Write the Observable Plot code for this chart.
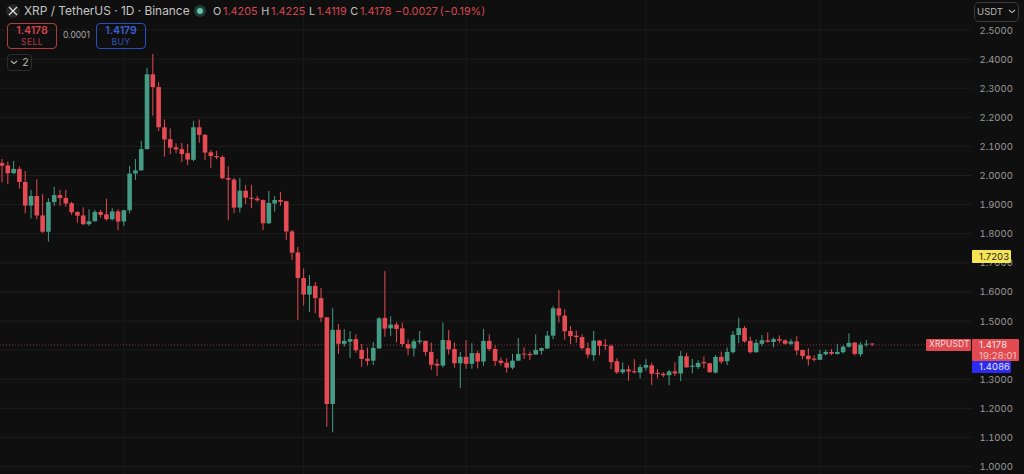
<!DOCTYPE html>
<html><head><meta charset="utf-8">
<script src="https://cdn.jsdelivr.net/npm/d3@7"></script>
<script src="https://cdn.jsdelivr.net/npm/@observablehq/plot@0.6"></script>
<style>
html,body{margin:0;padding:0;background:#0f0f0f;overflow:hidden}
#wrap{position:relative;width:1024px;height:474px;font-family:Inter,"Noto Sans",sans-serif;color:#c9c9c9}
#wrap>svg{display:block;position:absolute;left:0;top:0}
.a{position:absolute;white-space:nowrap}
.box{position:absolute;box-sizing:border-box;border:1px solid;border-radius:4px;text-align:center;line-height:1}
.tag{position:absolute;box-sizing:border-box;font-size:9.5px;line-height:11px;letter-spacing:.1px}
</style></head><body><div id="wrap"></div>
<script>
const opens=[2.041,2.033,2.006,2.021,1.976,1.895,1.928,1.861,1.805,1.907,1.931,1.921,1.903,1.873,1.861,1.831,1.841,1.873,1.865,1.848,1.875,1.840,1.879,2.005,2.016,2.089,2.346,2.302,2.164,2.123,2.095,2.089,2.075,2.052,2.164,2.138,2.078,2.065,2.062,1.990,1.984,1.888,1.946,1.922,1.919,1.914,1.834,1.902,1.914,1.910,1.806,1.734,1.646,1.589,1.619,1.577,1.511,1.213,1.468,1.420,1.427,1.436,1.399,1.369,1.362,1.404,1.509,1.473,1.486,1.473,1.419,1.404,1.427,1.430,1.392,1.351,1.345,1.432,1.402,1.353,1.375,1.351,1.388,1.359,1.430,1.402,1.362,1.355,1.338,1.362,1.386,1.385,1.383,1.396,1.404,1.448,1.542,1.517,1.464,1.448,1.443,1.405,1.381,1.431,1.416,1.413,1.360,1.322,1.332,1.326,1.321,1.338,1.346,1.320,1.317,1.312,1.325,1.318,1.377,1.341,1.340,1.357,1.353,1.321,1.375,1.360,1.391,1.450,1.474,1.430,1.391,1.420,1.432,1.426,1.436,1.432,1.420,1.428,1.399,1.379,1.369,1.365,1.384,1.392,1.385,1.391,1.410,1.424,1.384,1.417,1.4205];
const highs=[2.055,2.046,2.048,2.029,2.014,1.949,1.985,1.934,1.920,1.959,1.949,1.949,1.908,1.876,1.889,1.882,1.880,1.880,1.918,1.886,1.882,1.880,2.031,2.055,2.118,2.368,2.416,2.319,2.191,2.160,2.109,2.110,2.107,2.186,2.191,2.141,2.086,2.083,2.067,2.030,1.990,1.990,1.966,1.966,1.928,1.916,1.945,1.928,1.942,1.911,1.811,1.753,1.679,1.656,1.632,1.612,1.512,1.542,1.488,1.470,1.464,1.453,1.419,1.407,1.426,1.512,1.670,1.515,1.494,1.493,1.435,1.436,1.464,1.431,1.424,1.368,1.493,1.467,1.425,1.392,1.433,1.422,1.396,1.471,1.452,1.415,1.373,1.370,1.385,1.440,1.408,1.393,1.452,1.407,1.464,1.550,1.605,1.538,1.481,1.465,1.452,1.425,1.464,1.433,1.436,1.417,1.370,1.356,1.345,1.367,1.349,1.367,1.355,1.333,1.322,1.330,1.357,1.395,1.389,1.368,1.363,1.376,1.355,1.381,1.393,1.407,1.464,1.509,1.481,1.444,1.435,1.450,1.459,1.442,1.449,1.435,1.436,1.446,1.399,1.405,1.381,1.399,1.399,1.402,1.420,1.416,1.456,1.426,1.426,1.433,1.4225];
const lows=[1.975,1.968,2.004,1.953,1.868,1.851,1.848,1.800,1.771,1.894,1.894,1.891,1.863,1.836,1.828,1.825,1.840,1.853,1.843,1.843,1.811,1.825,1.868,1.983,2.015,2.088,2.204,2.151,2.063,2.071,2.075,2.044,2.034,2.047,2.111,2.052,2.025,2.054,1.985,1.845,1.868,1.871,1.900,1.886,1.908,1.811,1.832,1.874,1.894,1.777,1.708,1.502,1.551,1.529,1.525,1.494,1.135,1.116,1.385,1.410,1.371,1.389,1.341,1.345,1.347,1.403,1.444,1.447,1.425,1.410,1.380,1.376,1.419,1.379,1.330,1.310,1.339,1.383,1.338,1.268,1.334,1.334,1.336,1.344,1.395,1.344,1.345,1.321,1.332,1.361,1.368,1.364,1.383,1.383,1.402,1.435,1.493,1.434,1.419,1.424,1.399,1.370,1.361,1.381,1.399,1.333,1.316,1.316,1.293,1.318,1.301,1.328,1.278,1.301,1.305,1.278,1.309,1.292,1.337,1.318,1.333,1.336,1.321,1.318,1.351,1.347,1.387,1.422,1.424,1.387,1.389,1.412,1.424,1.408,1.422,1.417,1.415,1.381,1.367,1.345,1.359,1.364,1.380,1.381,1.383,1.387,1.407,1.380,1.376,1.410,1.4119];
const closes=[2.032,2.006,2.021,1.976,1.895,1.928,1.861,1.805,1.907,1.931,1.921,1.902,1.872,1.860,1.831,1.841,1.873,1.863,1.848,1.875,1.840,1.879,2.005,2.016,2.089,2.346,2.302,2.164,2.122,2.094,2.088,2.072,2.053,2.164,2.138,2.077,2.065,2.061,1.989,1.984,1.888,1.946,1.922,1.918,1.913,1.834,1.904,1.914,1.908,1.806,1.733,1.646,1.589,1.619,1.577,1.510,1.213,1.468,1.420,1.430,1.436,1.398,1.368,1.361,1.406,1.507,1.472,1.486,1.471,1.419,1.404,1.428,1.431,1.392,1.348,1.345,1.433,1.401,1.353,1.375,1.351,1.388,1.359,1.430,1.402,1.361,1.354,1.338,1.362,1.385,1.383,1.381,1.399,1.405,1.448,1.542,1.517,1.463,1.446,1.443,1.405,1.383,1.431,1.413,1.413,1.357,1.322,1.332,1.325,1.322,1.340,1.347,1.317,1.316,1.312,1.325,1.318,1.378,1.339,1.345,1.354,1.353,1.322,1.375,1.359,1.392,1.451,1.474,1.428,1.391,1.423,1.432,1.427,1.436,1.431,1.420,1.428,1.397,1.378,1.367,1.365,1.385,1.392,1.386,1.392,1.410,1.423,1.385,1.417,1.420,1.4178];
const priceTicks=[1.0,1.1,1.2,1.3,1.4,1.5,1.6,1.7,1.8,1.9,2.0,2.1,2.2,2.3,2.4,2.5];
const timeGrid=[21,52,80,111,141];
const lastPrice=1.4178, yellowLevel=1.7203, blueLevel=1.4086;
const GREEN="#459c85", RED="#e64a52";
const candles=opens.map((o,i)=>({i,o,h:highs[i],l:lows[i],c:closes[i],col:closes[i]>o?GREEN:RED}));
const W=1024,H=474;
const plot=Plot.plot({
  width:W,height:H,marginLeft:0,marginRight:52,marginTop:0,marginBottom:0,
  style:{background:"#0f0f0f",fontFamily:"Inter,'Noto Sans',sans-serif",fontSize:"10px",overflow:"visible"},
  x:{type:"linear",domain:[-0.26,167.3],axis:null},
  y:{type:"linear",domain:[0.9725,2.6014],axis:null},
  marks:[
    Plot.ruleY(priceTicks,{stroke:"#1d1d1d",strokeWidth:1}),
    Plot.ruleX(timeGrid,{stroke:"#1a1a1a",strokeWidth:1}),
    Plot.ruleY([lastPrice],{stroke:RED,strokeOpacity:.55,strokeWidth:1,strokeDasharray:"1 2"}),
    Plot.ruleX(candles,{x:"i",y1:"l",y2:"h",stroke:"col",strokeWidth:1}),
    Plot.ruleX(candles,{x:"i",y1:"o",y2:"c",stroke:"col",strokeWidth:4.6}),
    Plot.axisY(priceTicks,{anchor:"right",tickSize:0,tickPadding:7,dy:0.5,textAnchor:"start",tickFormat:d3.format(".4f"),fill:"#9a9a9a",label:null,fontSize:9.5})
  ]
});
const wrap=document.getElementById("wrap");
wrap.appendChild(plot);
const yS=plot.scale("y").apply;
function add(html,css,cls){const d=document.createElement("div");d.className=cls||"a";d.style.cssText=css;d.innerHTML=html;wrap.appendChild(d);return d}
const chev=(c)=>`<svg width="8" height="5" viewBox="0 0 8 5" style="vertical-align:1px"><path d="M1 1L4 3.6L7 1" fill="none" stroke="${c}" stroke-width="1.1"/></svg>`;
// header
add('','left:6px;top:4px;width:14px;height:14px;border-radius:50%;background:#262626');
add('<svg width="10" height="10" viewBox="0 0 10 10" style="display:block"><path d="M1 1L9 9M9 1L1 9" stroke="#e4e4e4" stroke-width="1.1"/></svg>','left:8px;top:6px;line-height:0');
add('XRP / TetherUS · 1D · Binance','left:24px;top:3px;font-size:11.9px;line-height:16px;color:#c4c4c4');
add('','left:197px;top:8px;width:6px;height:6px;border-radius:50%;background:#6cc4ac;box-shadow:0 0 0 3px #1f3d36');
add('<span style="color:#c4c4c4">O</span> 1.4205 &nbsp;<span style="color:#c4c4c4">H</span> 1.4225 &nbsp;<span style="color:#c4c4c4">L</span> 1.4119 &nbsp;<span style="color:#c4c4c4">C</span> 1.4178 &nbsp;−0.0027 (−0.19%)','left:213px;top:4px;font-size:10.8px;line-height:15px;color:#d9474e;word-spacing:-1.2px');
add('<div style="font-size:10.5px;font-weight:600;margin-top:2px">1.4178</div><div style="font-size:8.5px;margin-top:1px;letter-spacing:.4px;opacity:.85">SELL</div>','left:7px;top:23px;width:50px;height:26px;border-color:#b43a42;color:#d9434c','box');
add('0.0001','left:63px;top:30px;font-size:8.5px;line-height:11px;color:#a8a8a8');
add('<div style="font-size:10.5px;font-weight:600;margin-top:2px">1.4179</div><div style="font-size:8.5px;margin-top:1px;letter-spacing:.4px;opacity:.85">BUY</div>','left:96px;top:23px;width:50px;height:26px;border-color:#2b4fc0;color:#3a5fd6','box');
add(chev('#c4c4c4')+'<span style="margin-left:4px">2</span>','left:7px;top:54px;width:25px;height:17px;border-color:#2b2b2b;font-size:10.5px;line-height:15px;color:#bbb','box');
add('USDT<span style="margin-left:5px">'+chev('#b8b8b8')+'</span>','left:974px;top:2px;width:45px;height:20px;border-color:#3c3c3c;font-size:9.5px;line-height:18px;color:#b8b8b8;border-radius:5px','box');
// price tags
const lastTop=yS(lastPrice)-5.5;
add('1.7203',`left:972px;top:${yS(yellowLevel)-6}px;width:39px;height:13px;padding:1px 0 0 7px;background:#f6e652;color:#222;border-radius:1px`,'tag');
add('XRPUSDT',`left:926px;top:${lastTop}px;width:45px;height:12px;background:#e04a50;color:#f4dcdc;padding-left:3px;font-size:8.5px;border-radius:1px`,'tag');
add('1.4178<br><span style="color:#f2c4c4">19:28:01</span>',`left:972px;top:${lastTop}px;width:47px;height:22px;background:#e04a50;color:#f8e8e8;padding:0 0 0 7px;border-radius:1px`,'tag');
add(d3.format(".4f")(blueLevel),`left:972px;top:${lastTop+22}px;width:39px;height:12px;padding-left:7px;background:#2a2af0;color:#e8e8ff;border-radius:1px`,'tag');
</script></body></html>
